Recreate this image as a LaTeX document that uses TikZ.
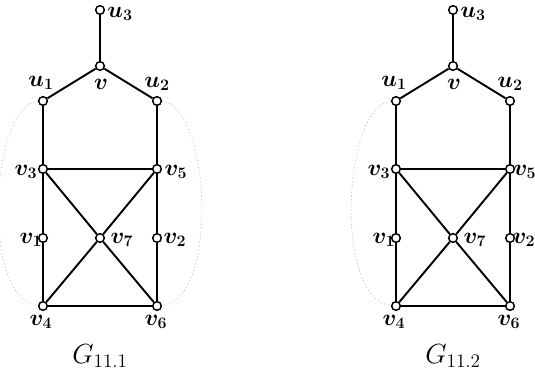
\documentclass[tikz,border=0pt]{standalone}
\begin{document}
\begin{tikzpicture}[x=0.75pt,y=-0.75pt,
  vtx/.style={circle,draw,fill=white,inner sep=0pt,minimum size=6.5pt,line width=1.1pt},
  edge/.style={line width=1.45pt},
  faint/.style={draw=gray!55,line width=0.45pt,dash pattern=on 0.9pt off 1.8pt},
  lab/.style={inner sep=0pt,font=\fontsize{17.5}{20}\selectfont\boldmath},
  glab/.style={inner sep=0pt,font=\fontsize{20}{24}\selectfont}]
\useasboundingbox (0,0) rectangle (535,382);
\clip (0,0) rectangle (535,382);
\foreach \g/\dx/\nm/\sx in {a/0/11.1/0, b/353/11.2/-4}{
  \begin{scope}[xshift=\dx*0.75pt]
  \node[vtx] (u3\g) at (100,10) {};
  \node[vtx] (v\g) at (100,66) {};
  \node[vtx] (u1\g) at (43,101) {};
  \node[vtx] (u2\g) at (157,101) {};
  \node[vtx] (v3\g) at (43,169) {};
  \node[vtx] (v5\g) at (157,169) {};
  \node[vtx] (v1\g) at (43,238) {};
  \node[vtx] (v7\g) at (100,238) {};
  \node[vtx] (v2\g) at (157,238) {};
  \node[vtx] (v4\g) at (43,306) {};
  \node[vtx] (v6\g) at (157,306) {};
  \node[lab] (lu3\g) at (120,14) {$u_3$};
  \node[lab] (lu1\g) at (41,83) {$u_1$};
  \node[lab] (lv\g) at (101,84) {$v$};
  \node[lab] (lu2\g) at (157,84) {$u_2$};
  \node[lab] (lv3\g) at (26,172) {$v_3$};
  \node[lab] (lv5\g) at (176+\sx,172) {$v_5$};
  \node[lab] (lv1\g) at (31,240) {$v_1$};
  \node[lab] (lv7\g) at (122,240) {$v_7$};
  \node[lab] (lv2\g) at (175+\sx,240) {$v_2$};
  \node[lab] (lv4\g) at (41,322) {$v_4$};
  \node[lab] (lv6\g) at (156,322) {$v_6$};
  \node[glab] (G\g) at (100,356) {$G_{\nm}$};
  \end{scope}
}
% faint dotted arcs
\draw[faint] (u1a) .. controls (-10,105) and (-20,300) .. (v4a);
\draw[faint] (u2a) .. controls (210,105) and (220,300) .. (v6a);
\draw[faint] (u1b) .. controls (343,105) and (333,300) .. (v4b);
% edges
\foreach \g in {a,b}{
  \draw[edge] (u3\g) -- (v\g);
  \draw[edge] (v\g) -- (u1\g);
  \draw[edge] (v\g) -- (u2\g);
  \draw[edge] (u1\g) -- (v3\g);
  \draw[edge] (u2\g) -- (v5\g);
  \draw[edge] (v3\g) -- (v5\g);
  \draw[edge] (v3\g) -- (v1\g);
  \draw[edge] (v1\g) -- (v4\g);
  \draw[edge] (v5\g) -- (v2\g);
  \draw[edge] (v2\g) -- (v6\g);
  \draw[edge] (v4\g) -- (v6\g);
  \draw[edge] (v3\g) -- (v7\g);
  \draw[edge] (v5\g) -- (v7\g);
  \draw[edge] (v4\g) -- (v7\g);
  \draw[edge] (v6\g) -- (v7\g);
}
\end{tikzpicture}
\end{document}
